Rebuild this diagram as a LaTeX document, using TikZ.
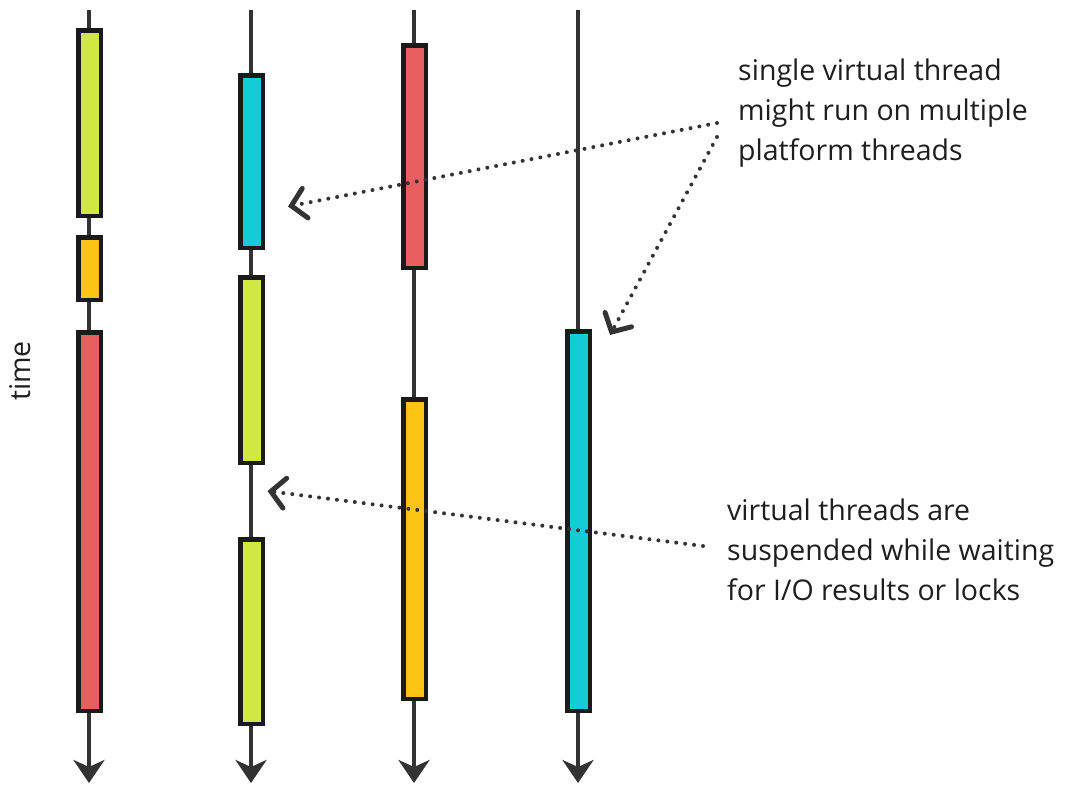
\documentclass[tikz,border=0pt]{standalone}
\usepackage{fontspec}
\setmainfont{Open Sans}
\usetikzlibrary{arrows.meta}
\definecolor{vtLime}{HTML}{CFE842}
\definecolor{vtOrange}{HTML}{FCC515}
\definecolor{vtRed}{HTML}{E95E5F}
\definecolor{vtCyan}{HTML}{13CCD5}
\definecolor{vtLine}{HTML}{333333}
\definecolor{vtEdge}{HTML}{1A1A1A}
\definecolor{vtText}{HTML}{1E1E1E}
\tikzset{
  font={\fontsize{28.5pt}{40pt}\selectfont}}

\begin{document}
\begin{tikzpicture}[x=1pt,y=-1pt]
\tikzstyle{thread}=[vtLine, line width=4pt, -{Stealth[length=23pt,width=31pt,inset=7pt]}]
\tikzstyle{slice}=[draw=vtEdge, line width=4.5pt, minimum width=22.5pt, inner sep=0pt]
\tikzstyle{hint}=[vtLine, line width=4pt, line cap=round, dash pattern=on 0pt off 9pt,
  -{Straight Barb[length=14pt,width=30pt,line width=0pt 1.25,line cap=round]}]
\tikzstyle{note}=[vtText, align=left, anchor=west, inner sep=0pt]
\useasboundingbox (0,0) rectangle (1067,785);
\coordinate (top1) at (89,10);
\coordinate (end1) at (89,783);
\coordinate (top2) at (251,10);
\coordinate (end2) at (251,783);
\coordinate (top3) at (414,10);
\coordinate (end3) at (414,783);
\coordinate (top4) at (578,10);
\coordinate (end4) at (578,783);
\draw [thread] (top1) -- (end1);
\draw [thread] (top2) -- (end2);
\draw [thread] (top3) -- (end3);
\draw [thread] (top4) -- (end4);
\node [slice, fill=vtLime, minimum height=185.5pt] (lime1) at (89.5,123) {};
\node [slice, fill=vtOrange, minimum height=62.5pt] (orange1) at (89.5,268.5) {};
\node [slice, fill=vtRed, minimum height=378.5pt] (red1) at (89.5,521.5) {};
\node [slice, fill=vtCyan, minimum height=172.5pt] (cyan1) at (251.5,161.5) {};
\node [slice, fill=vtLime, minimum height=185.5pt] (lime2) at (251.5,370) {};
\node [slice, fill=vtLime, minimum height=184.5pt] (lime3) at (251.5,631.5) {};
\node [slice, fill=vtRed, minimum height=222.5pt] (red2) at (414.5,156.5) {};
\node [slice, fill=vtOrange, minimum height=299.5pt] (orange2) at (414.5,549) {};
\node [slice, fill=vtCyan, minimum height=379.5pt] (cyan2) at (578.5,521) {};
\node [vtText, rotate=90] (timeLabel) at (20,371) {time};
\node [note] (noteMulti) at (738,113) {single virtual thread\\might run on multiple\\platform threads};
\node [note] (noteWait) at (727,550) {virtual threads are\\suspended while waiting\\for I/O results or locks};
\coordinate (multiA) at ([shift={(-21,10)}]noteMulti.west);
\coordinate (multiB) at ([shift={(-21,24)}]noteMulti.west);
\coordinate (waitA) at ([shift={(-24,-4)}]noteWait.west);
\coordinate (aimCyan1) at ([shift={(23,45)}]cyan1.east);
\coordinate (aimCyan2) at ([shift={(18,6)}]cyan2.north east);
\coordinate (aimGap) at ([shift={(16,26)}]lime2.south);
\draw [hint] (multiA) -- (aimCyan1);
\draw [hint] (multiB) -- (aimCyan2);
\draw [hint] (waitA) -- (aimGap);
\end{tikzpicture}
\end{document}
